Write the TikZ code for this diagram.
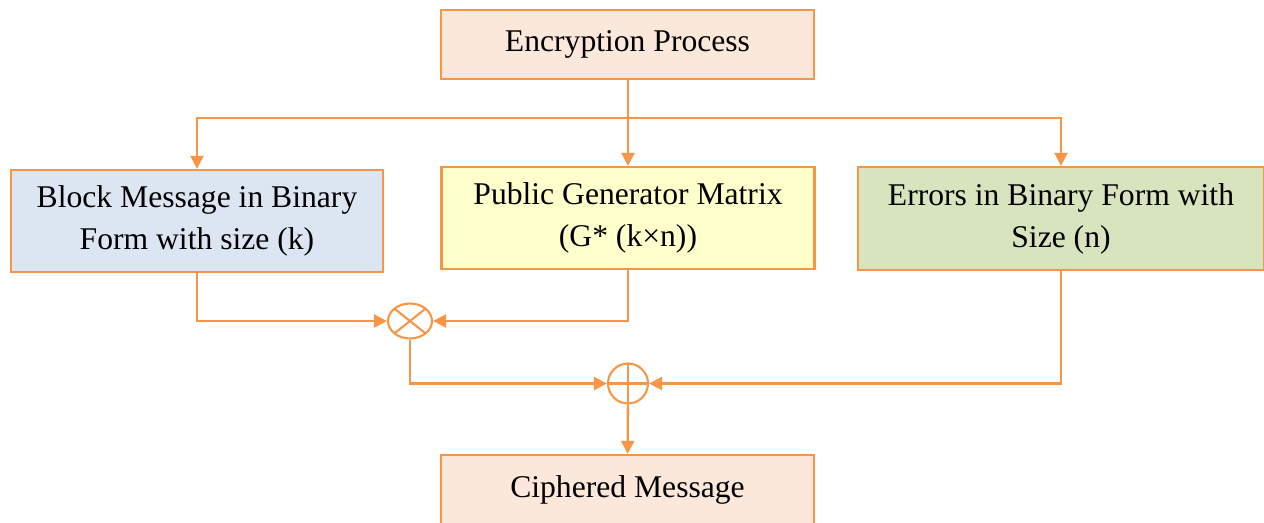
\documentclass[tikz,border=0pt]{standalone}
\usepackage{fontspec}
\setmainfont{Liberation Serif}
\usetikzlibrary{arrows.meta,positioning,shapes.geometric,calc}
\definecolor{encorange}{RGB}{247,150,70}
\definecolor{softpeach}{RGB}{252,232,218}
\definecolor{softblue}{RGB}{220,230,242}
\definecolor{softyellow}{RGB}{255,255,204}
\definecolor{softgreen}{RGB}{215,228,189}

\begin{document}
\begin{tikzpicture}[x=0.02cm, y=-0.02cm,
  every node/.style={font=\fontsize{18}{24}\selectfont},
  stagebox/.style={draw=encorange,line width=1.3pt,minimum width=7.46cm,minimum height=1.38cm,align=center,inner sep=0pt},
  wire/.style={draw=encorange,line width=1.3pt,-{Triangle[length=0.26cm,width=0.26cm]}},
  mulop/.style={ellipse,draw=encorange,line width=1.2pt,minimum width=0.88cm,minimum height=0.7cm,inner sep=0pt,
    path picture={\draw[encorange,line width=1.2pt] (path picture bounding box.north west) -- (path picture bounding box.south east)
      (path picture bounding box.south west) -- (path picture bounding box.north east);}},
  addop/.style={circle,draw=encorange,line width=1.2pt,minimum size=0.8cm,inner sep=0pt,
    path picture={\draw[encorange,line width=1.2pt] (path picture bounding box.north) -- (path picture bounding box.south)
      (path picture bounding box.west) -- (path picture bounding box.east);}}]
  \useasboundingbox (0,0) rectangle (1264,522);

  \node[stagebox,fill=softpeach] (enc) at (627.5,44.5) {Encryption Process};
  \node[stagebox,fill=softblue,minimum width=7.44cm,minimum height=2.04cm] (block) at (197,221) {Block Message in Binary\\Form with size (k)};
  \node[stagebox,fill=softyellow,minimum height=2.04cm] (gen) at (628,218) {Public Generator Matrix\\(G* (k×n))};
  \node[stagebox,fill=softgreen,minimum width=8.12cm,minimum height=2.06cm] (err) at (1061,218.5) {Errors in Binary Form with\\Size (n)};
  \node[mulop] (mul) at (410,321) {};
  \node[addop] (add) at (628,383.5) {};
  \node[stagebox,fill=softpeach] (out) at (627.5,489.5) {Ciphered Message};

  \coordinate (bus) at (628,118);
  \draw[wire] (enc.south -| gen.north) -- (gen.north);
  \foreach \b in {block,err}{\draw[wire] (bus) -| (\b);}
  \foreach \a/\b in {block/mul,gen/mul,mul/add,err/add}{\draw[wire] (\a) |- (\b);}
  \draw[wire] (add) -- (out);
\end{tikzpicture}
\end{document}
